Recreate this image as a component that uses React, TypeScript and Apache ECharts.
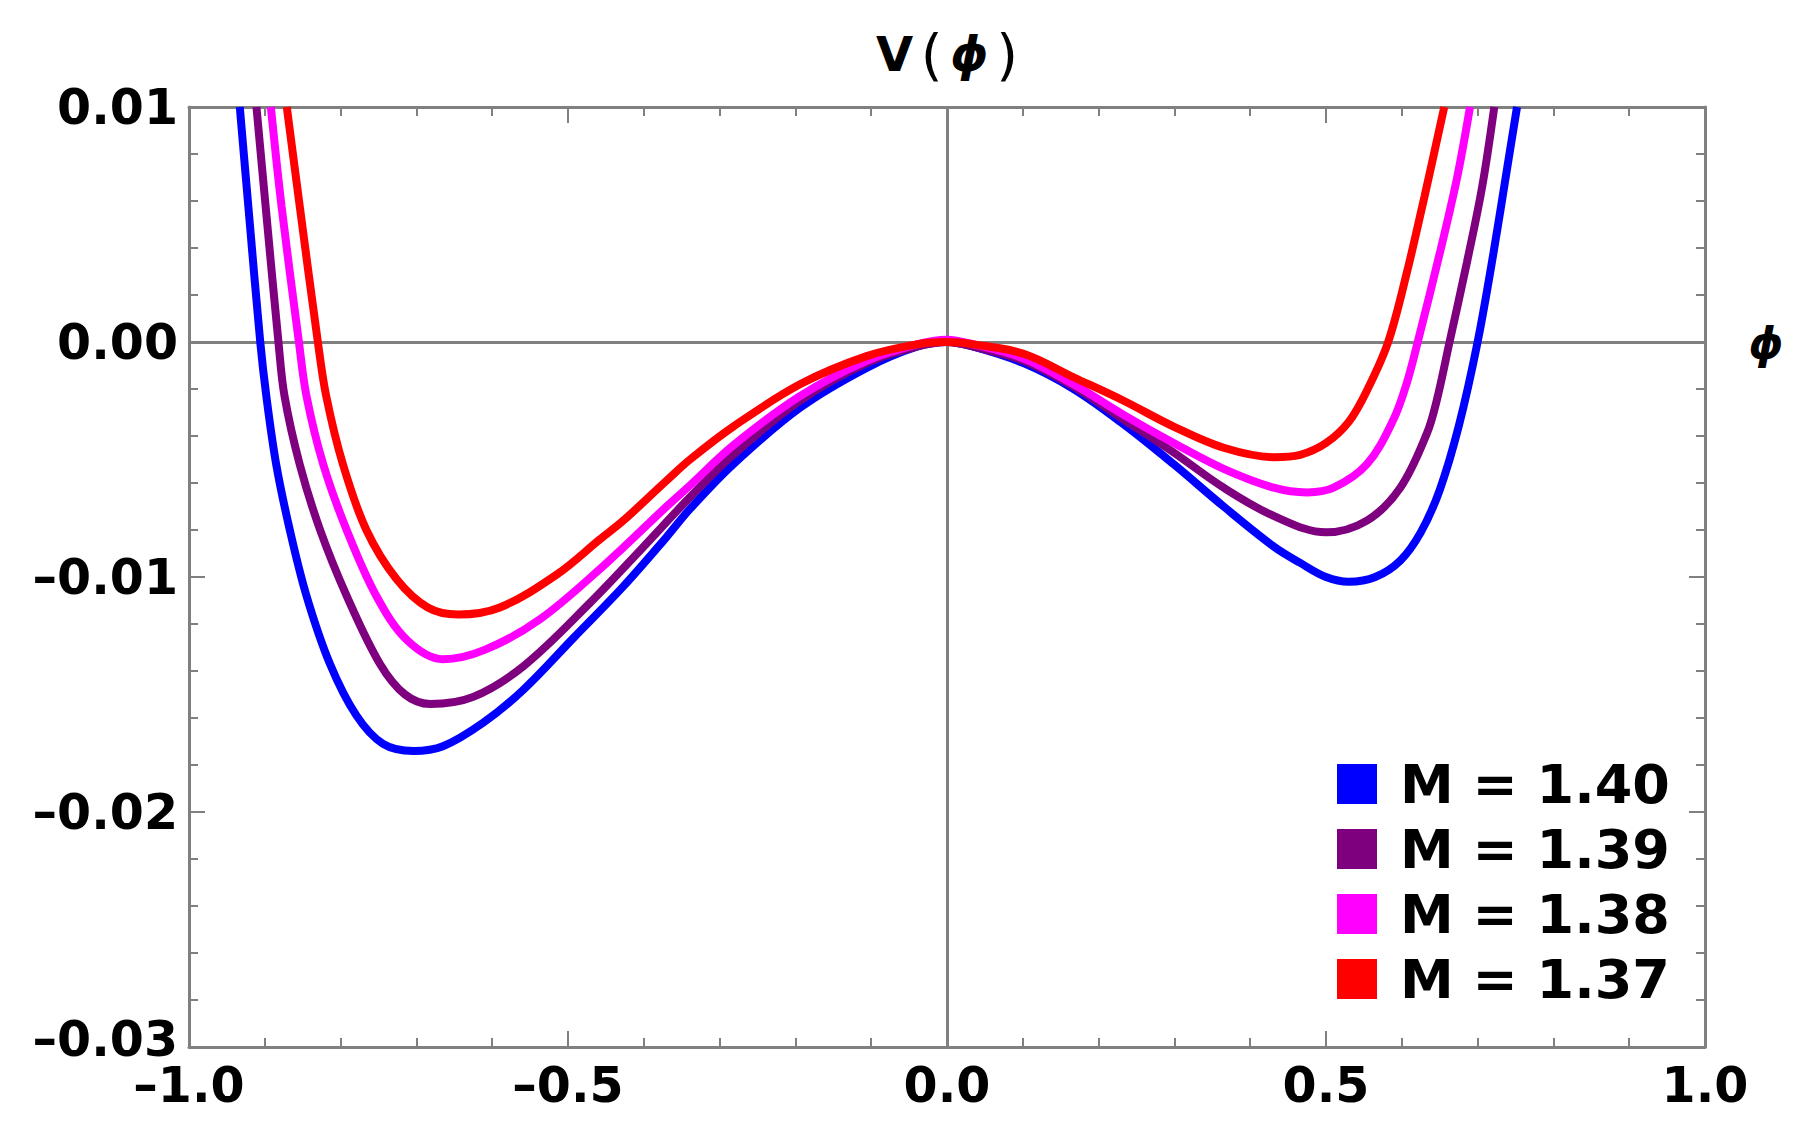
import React, { useEffect, useRef } from "react";
import * as echarts from "echarts";

// phi, V(phi) pairs
const curveM140: [number, number][] = [
  [-0.933, 0.01], [-0.921, 0.0055], [-0.906, 0.0], [-0.898, -0.0023], [-0.885, -0.0052], [-0.867, -0.008],
  [-0.845, -0.0108], [-0.814, -0.0137], [-0.779, -0.0159], [-0.744, -0.0171], [-0.704, -0.0174], [-0.665, -0.0172],
  [-0.612, -0.0162], [-0.559, -0.0148], [-0.493, -0.0126], [-0.427, -0.0104], [-0.37, -0.0083], [-0.339, -0.0071],
  [-0.282, -0.0052], [-0.194, -0.0028], [-0.106, -0.0011], [-0.04, -0.0002], [0, 0], [0.035, -0.0002],
  [0.101, -0.0009], [0.167, -0.002], [0.233, -0.0035], [0.299, -0.0052], [0.365, -0.007], [0.431, -0.0087],
  [0.466, -0.0094], [0.5, -0.01], [0.53, -0.0102], [0.565, -0.01], [0.598, -0.0093], [0.625, -0.0081],
  [0.65, -0.0063], [0.675, -0.0036], [0.7, 0.0], [0.721, 0.0038], [0.739, 0.0074], [0.752, 0.01],
];
const curveM139: [number, number][] = [
  [-0.911, 0.01], [-0.899, 0.0058], [-0.882, 0.0], [-0.874, -0.0023], [-0.854, -0.0052], [-0.827, -0.008],
  [-0.792, -0.0108], [-0.748, -0.0137], [-0.715, -0.015], [-0.682, -0.0154], [-0.625, -0.0151], [-0.559, -0.0138],
  [-0.471, -0.0111], [-0.4, -0.0087], [-0.339, -0.0066], [-0.282, -0.0048], [-0.194, -0.0025], [-0.106, -0.0009],
  [-0.04, -0.0002], [0, 0], [0.035, -0.0002], [0.101, -0.0008], [0.167, -0.0019], [0.233, -0.0033],
  [0.299, -0.0047], [0.365, -0.0062], [0.431, -0.0074], [0.5, -0.0081], [0.554, -0.0076], [0.598, -0.0062],
  [0.633, -0.0039], [0.646, -0.0025], [0.663, 0.0], [0.686, 0.0034], [0.706, 0.0066], [0.722, 0.01],
];
const curveM138: [number, number][] = [
  [-0.892, 0.01], [-0.878, 0.0058], [-0.855, 0.0], [-0.845, -0.0023], [-0.823, -0.0052], [-0.792, -0.008],
  [-0.753, -0.0108], [-0.712, -0.0127], [-0.665, -0.0135], [-0.61, -0.0131], [-0.537, -0.0118], [-0.449, -0.0094],
  [-0.37, -0.007], [-0.339, -0.0061], [-0.282, -0.0044], [-0.194, -0.0023], [-0.106, -0.0008], [-0.04, -0.0001],
  [0, 0.0001], [0.035, -0.0001], [0.101, -0.0007], [0.167, -0.0018], [0.233, -0.0031], [0.299, -0.0043],
  [0.365, -0.0054], [0.431, -0.0062], [0.475, -0.0064], [0.51, -0.0062], [0.554, -0.0052], [0.589, -0.0033],
  [0.607, -0.0017], [0.621, 0.0], [0.651, 0.0039], [0.673, 0.007], [0.69, 0.01],
];
const curveM137: [number, number][] = [
  [-0.871, 0.01], [-0.854, 0.0058], [-0.83, 0.0], [-0.819, -0.0023], [-0.797, -0.0052], [-0.766, -0.008],
  [-0.726, -0.0101], [-0.685, -0.0113], [-0.645, -0.0116], [-0.59, -0.0113], [-0.515, -0.0099], [-0.458, -0.0084],
  [-0.427, -0.0076], [-0.37, -0.0059], [-0.339, -0.005], [-0.282, -0.0036], [-0.194, -0.0018], [-0.106, -0.0006],
  [-0.04, -0.0001], [0, 0], [0.035, -0.0001], [0.101, -0.0005], [0.167, -0.0015], [0.233, -0.0025],
  [0.299, -0.0036], [0.365, -0.0045], [0.431, -0.0049], [0.466, -0.0048], [0.5, -0.0043], [0.53, -0.0034],
  [0.555, -0.002], [0.582, 0.0], [0.607, 0.003], [0.63, 0.0062], [0.656, 0.01],
];

const seriesNames = ["M = 1.40", "M = 1.39", "M = 1.38", "M = 1.37"];
const seriesColors = ["#0000ff", "#7f007f", "#ff00ff", "#ff0000"];
const seriesData = [curveM140, curveM139, curveM138, curveM137];

const xTicks = { min: -1, max: 1, interval: 0.5 };
const yTicks = { min: -0.03, max: 0.01, interval: 0.01 };

const FONT = "DejaVu Sans";
const GRAY = "#808080";

export default function App() {
  const ref = useRef<HTMLDivElement>(null);
  useEffect(() => {
    if (!ref.current) return;
    const chart = echarts.init(ref.current, undefined, { renderer: "svg" });

    const fmtY = (v: number) => {
      const s = (Math.abs(v) < 1e-9 ? "0.00" : v.toFixed(2)).replace("-", "\u2013");
      return Math.abs(v - yTicks.min) < 1e-9 ? `{low|${s}}` : s;
    };
    const fmtX = (v: number) => (Math.abs(v) < 1e-9 ? "0.0" : v.toFixed(1)).replace("-", "\u2013");

    const axisLine = { show: true, onZero: false, lineStyle: { color: GRAY, width: 3 } };
    const axisTick = { show: true, inside: true, length: 16, lineStyle: { color: GRAY, width: 2 } };
    const minorTick = { show: true, splitNumber: 5, length: 9, lineStyle: { color: GRAY, width: 2 } };
    const labelFont = { fontSize: 49, fontWeight: "bold", fontFamily: FONT, color: "#000" };

    const lineSeries = seriesData.map((d, i) => ({
      name: seriesNames[i],
      type: "line",
      data: d,
      showSymbol: false,
      smooth: 0.35,
      clip: true,
      lineStyle: { color: seriesColors[i], width: 8 },
      itemStyle: { color: seriesColors[i] },
      z: 3,
    }));

    const option: any = {
      animation: false,
      backgroundColor: "#ffffff",
      grid: { left: 189, right: 95, top: 107, bottom: 88, containLabel: false },
      xAxis: [
        {
          type: "value", position: "bottom", ...xTicks,
          axisLine, axisTick, minorTick,
          splitLine: { show: false },
          axisLabel: { show: true, formatter: fmtX, margin: 14, ...labelFont },
        },
        {
          type: "value", position: "top", ...xTicks,
          axisLine, axisTick, minorTick,
          splitLine: { show: false },
          axisLabel: { show: false },
        },
      ],
      yAxis: [
        {
          type: "value", position: "left", ...yTicks,
          axisLine, axisTick, minorTick,
          splitLine: { show: false },
          axisLabel: {
            show: true, formatter: fmtY, margin: 11, ...labelFont,
            rich: { low: { ...labelFont, padding: [0, 0, 16, 0] } },
          },
        },
        {
          type: "value", position: "right", ...yTicks,
          axisLine, axisTick, minorTick,
          splitLine: { show: false },
          axisLabel: { show: false },
        },
      ],
      legend: {
        data: seriesNames,
        orient: "vertical",
        left: 1337,
        top: 757,
        icon: "rect",
        itemWidth: 40,
        itemHeight: 40,
        itemGap: 11,
        padding: 0,
        textStyle: { fontSize: 54, fontWeight: "bold", fontFamily: FONT, color: "#000", padding: [0, 0, 0, 18] },
      },
      graphic: [
        {
          type: "text",
          x: 947,
          y: 54,
          style: {
            text: "{v|V}{s| }{p|(}{s| }{f|\u03d5}{s| }{p|)}",
            align: "center",
            verticalAlign: "middle",
            rich: {
              v: { font: `bold 48px "${FONT}"`, fill: "#000" },
              s: { font: `24px "${FONT}"`, fill: "#000" },
              p: { font: `56px "${FONT}"`, fill: "#000" },
              f: { font: `italic bold 48px "${FONT}"`, fill: "#000" },
            },
          },
        },
        {
          type: "text",
          x: 1766,
          y: 343,
          style: {
            text: "\u03d5",
            align: "center",
            verticalAlign: "middle",
            fontSize: 44,
            fontWeight: "bold",
            fontStyle: "italic",
            fontFamily: FONT,
            fill: "#000",
          },
        },
      ],
      series: [
        {
          type: "line",
          data: [],
          silent: true,
          z: 1,
          markLine: {
            silent: true,
            z: 1,
            symbol: ["none", "none"],
            label: { show: false },
            lineStyle: { color: GRAY, width: 3, type: "solid" },
            data: [{ xAxis: 0 }, { yAxis: 0 }],
          },
        },
        ...lineSeries,
      ],
    };
    chart.setOption(option);
    return () => chart.dispose();
  }, []);
  return (
    <div
      ref={ref}
      style={{ position: "absolute", left: 0, top: 0, width: 1800, height: 1135, background: "#fff" }}
    />
  );
}
